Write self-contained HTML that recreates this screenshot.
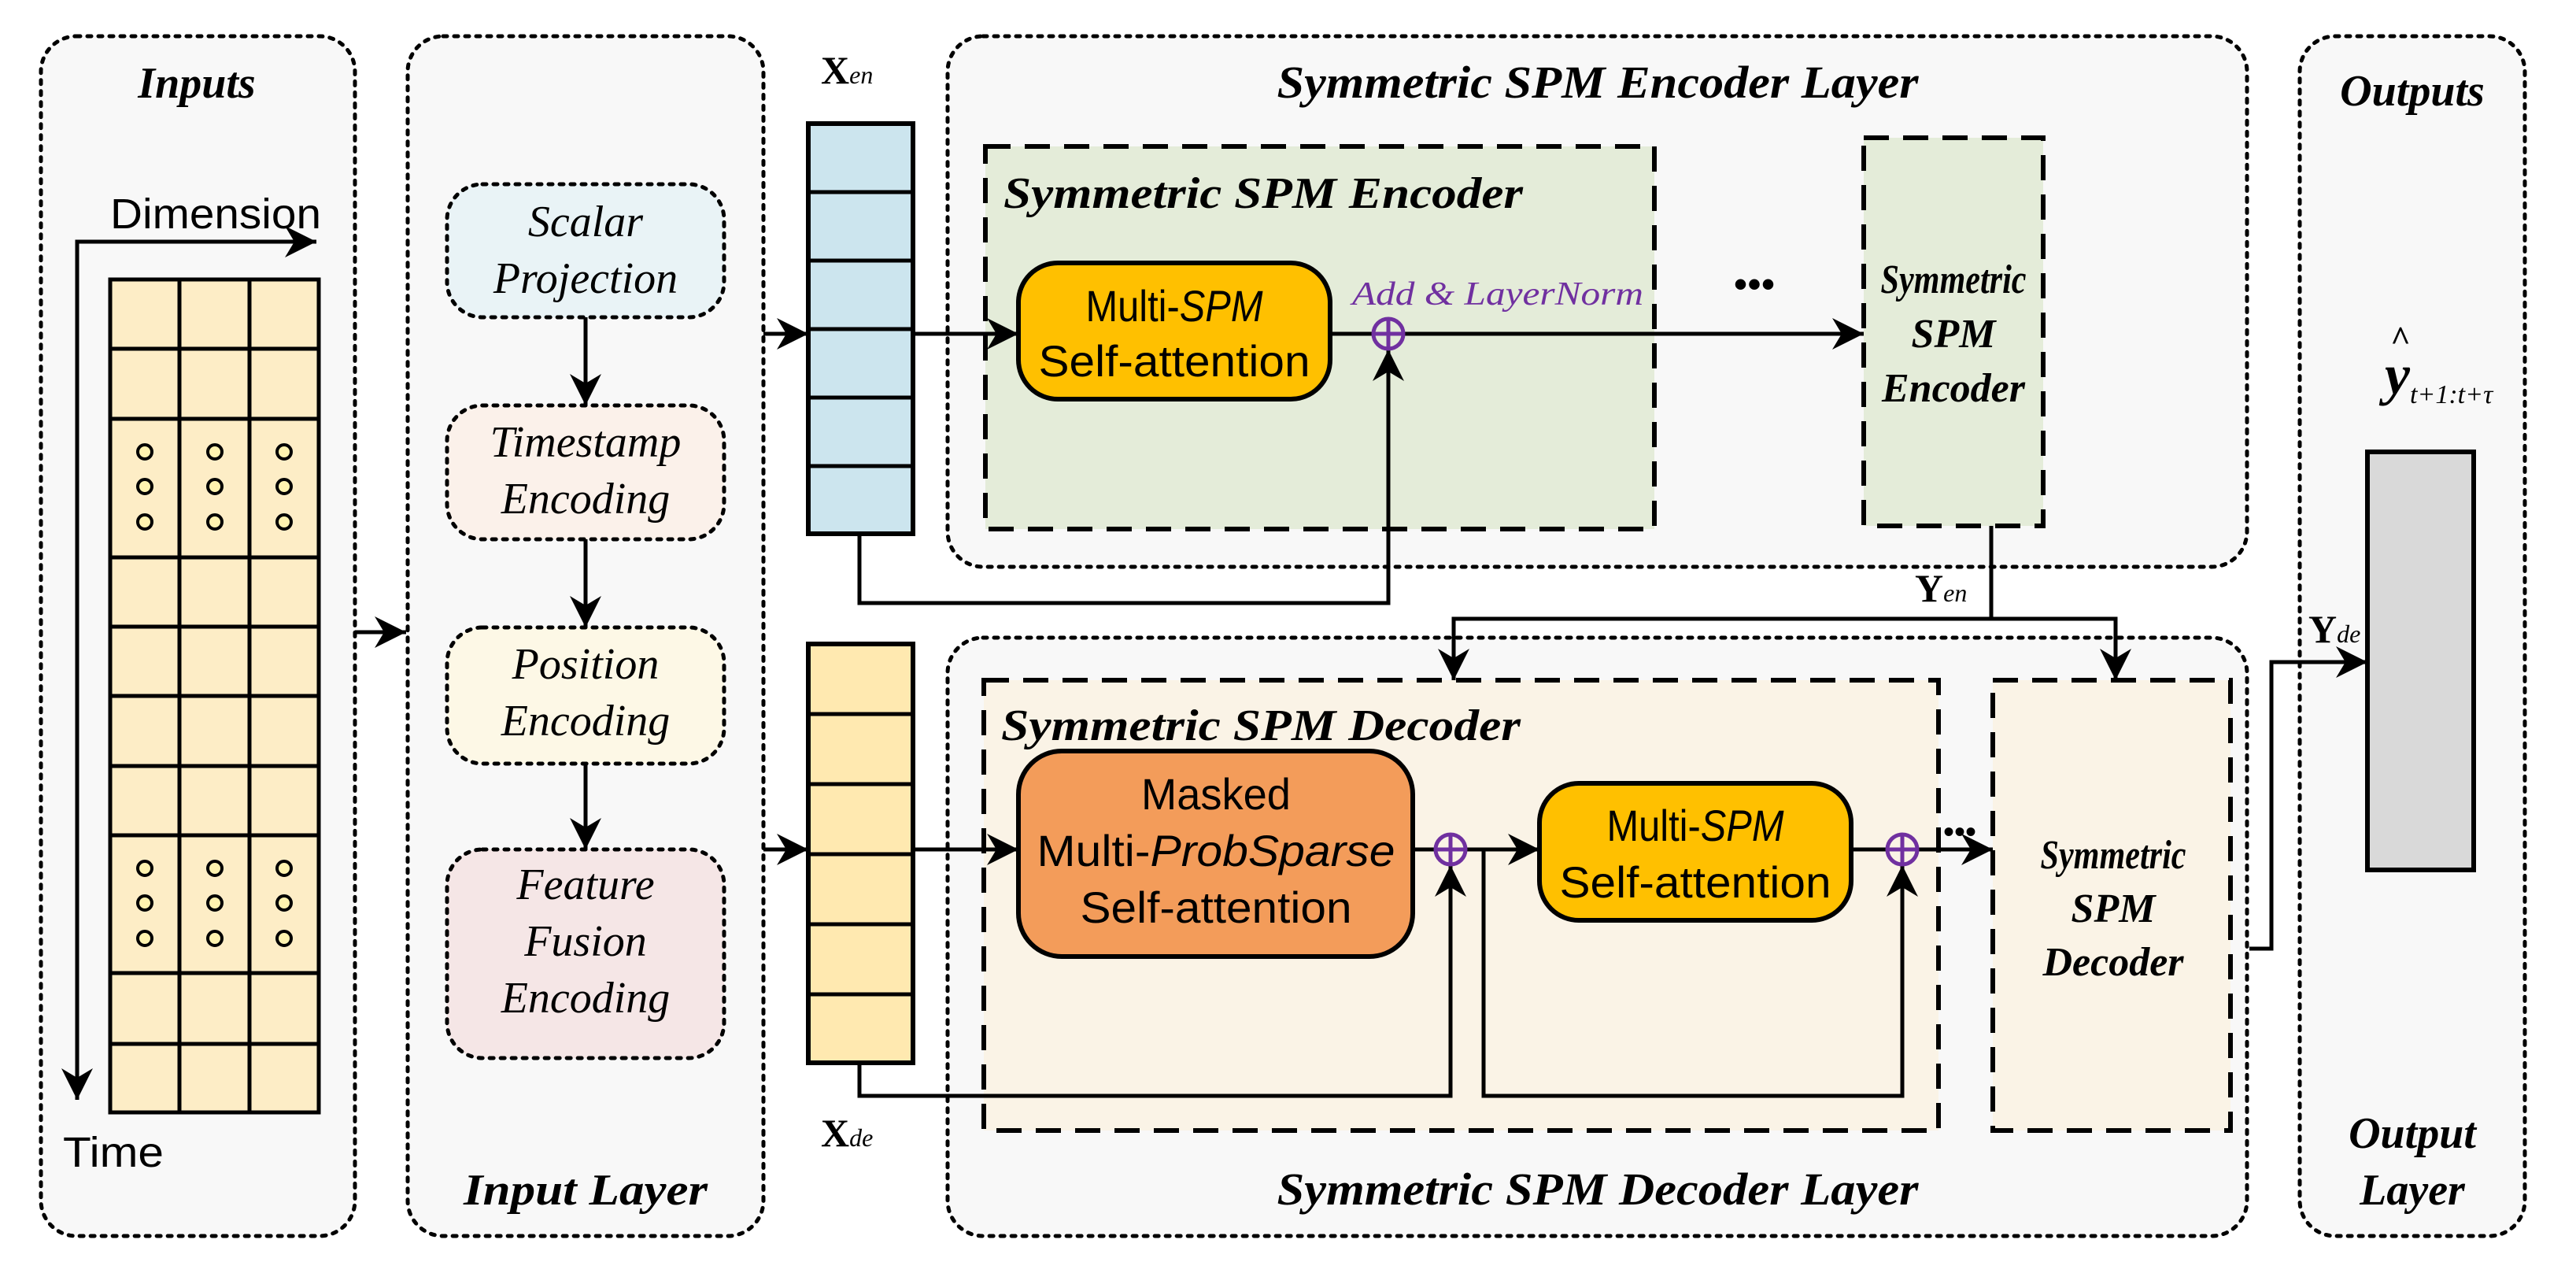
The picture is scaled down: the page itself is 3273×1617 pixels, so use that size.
<!DOCTYPE html>
<html><head><meta charset="utf-8"><style>
html,body{margin:0;padding:0;background:#fff;}
svg{display:block;}
.t{font-family:"Liberation Serif",serif;font-weight:bold;font-style:italic;}
.i{font-family:"Liberation Serif",serif;font-style:italic;}
.s{font-family:"Liberation Sans",sans-serif;}
</style></head><body>
<svg width="3273" height="1617" viewBox="0 0 3273 1617" xmlns="http://www.w3.org/2000/svg">
<defs>
<marker id="a" viewBox="0 0 10 10" refX="10" refY="5" markerWidth="40" markerHeight="40" markerUnits="userSpaceOnUse" orient="auto">
<path d="M0,0 L10,5 L0,10 L3,5 z" fill="#000"/></marker>
</defs>
<style>
.od{fill:#f8f8f8;stroke:#000;stroke-width:5;stroke-dasharray:5 9;stroke-linecap:round}
.id{stroke:#000;stroke-width:5;stroke-dasharray:5 9;stroke-linecap:round}
.dd{stroke:#000;stroke-width:6;stroke-dasharray:32 18}
.ln{stroke:#000;stroke-width:5;fill:none}
</style>
<rect width="3273" height="1617" fill="#fff"/>
<!-- outer boxes -->
<rect class="od" x="52" y="46" width="399" height="1524" rx="45"/>
<rect class="od" x="518" y="46" width="452" height="1524" rx="45"/>
<rect class="od" x="1204" y="46" width="1651" height="674" rx="45"/>
<rect class="od" x="1204" y="810" width="1651" height="760" rx="45"/>
<rect class="od" x="2922" y="46" width="286" height="1524" rx="45"/>

<text class="t" x="250" y="124" font-size="56" text-anchor="middle">Inputs</text>
<text class="t" x="744" y="1530" font-size="56" text-anchor="middle" textLength="310" lengthAdjust="spacingAndGlyphs">Input Layer</text>
<text class="t" x="2030" y="124" font-size="58" text-anchor="middle" textLength="815" lengthAdjust="spacingAndGlyphs">Symmetric SPM Encoder Layer</text>
<text class="t" x="2030" y="1530" font-size="58" text-anchor="middle" textLength="815" lengthAdjust="spacingAndGlyphs">Symmetric SPM Decoder Layer</text>
<text class="t" x="3065" y="134" font-size="56" text-anchor="middle">Outputs</text>
<text class="t" x="3065" y="1458" font-size="56" text-anchor="middle">Output</text>
<text class="t" x="3065" y="1530" font-size="56" text-anchor="middle">Layer</text>

<!-- inputs grid -->
<text class="s" x="140" y="290" font-size="54" textLength="268" lengthAdjust="spacingAndGlyphs">Dimension</text>
<text class="s" x="80" y="1482" font-size="54" textLength="128" lengthAdjust="spacingAndGlyphs">Time</text>
<polyline class="ln" points="98,1395 98,307 402,307" marker-end="url(#a)"/>
<line class="ln" x1="98" y1="320" x2="98" y2="1397" marker-end="url(#a)"/>
<g>
<rect x="140" y="355" width="265" height="1058" fill="#fdedc6" stroke="#000" stroke-width="5"/>
<g stroke="#000" stroke-width="5">
<line x1="228" y1="355" x2="228" y2="1413"/><line x1="317" y1="355" x2="317" y2="1413"/>
<line x1="140" y1="443" x2="405" y2="443"/><line x1="140" y1="532" x2="405" y2="532"/>
<line x1="140" y1="708" x2="405" y2="708"/><line x1="140" y1="796" x2="405" y2="796"/>
<line x1="140" y1="884" x2="405" y2="884"/><line x1="140" y1="973" x2="405" y2="973"/>
<line x1="140" y1="1061" x2="405" y2="1061"/><line x1="140" y1="1236" x2="405" y2="1236"/>
<line x1="140" y1="1326" x2="405" y2="1326"/>
</g>
<g fill="#fff3b0" stroke="#000" stroke-width="4">
<circle cx="184" cy="574" r="9"/><circle cx="184" cy="618" r="9"/><circle cx="184" cy="663" r="9"/>
<circle cx="273" cy="574" r="9"/><circle cx="273" cy="618" r="9"/><circle cx="273" cy="663" r="9"/>
<circle cx="361" cy="574" r="9"/><circle cx="361" cy="618" r="9"/><circle cx="361" cy="663" r="9"/>
<circle cx="184" cy="1103" r="9"/><circle cx="184" cy="1147" r="9"/><circle cx="184" cy="1192" r="9"/>
<circle cx="273" cy="1103" r="9"/><circle cx="273" cy="1147" r="9"/><circle cx="273" cy="1192" r="9"/>
<circle cx="361" cy="1103" r="9"/><circle cx="361" cy="1147" r="9"/><circle cx="361" cy="1192" r="9"/>
</g>
</g>
<line class="ln" x1="451" y1="803" x2="516" y2="803" marker-end="url(#a)"/>

<!-- input layer boxes -->
<rect class="id" x="568" y="234" width="352" height="169" rx="45" fill="#e9f3f6"/>
<rect class="id" x="568" y="515" width="352" height="170" rx="45" fill="#fbf1ea"/>
<rect class="id" x="568" y="797" width="352" height="173" rx="45" fill="#fdf8e6"/>
<rect class="id" x="568" y="1079" width="352" height="265" rx="45" fill="#f5e6e6"/>
<g class="i" font-size="56" text-anchor="middle">
<text x="744" y="300">Scalar</text><text x="744" y="372">Projection</text>
<text x="744" y="580">Timestamp</text><text x="744" y="652">Encoding</text>
<text x="744" y="862">Position</text><text x="744" y="934">Encoding</text>
<text x="744" y="1142">Feature</text><text x="744" y="1214">Fusion</text><text x="744" y="1286">Encoding</text>
</g>
<line class="ln" x1="744" y1="403" x2="744" y2="515" marker-end="url(#a)"/>
<line class="ln" x1="744" y1="685" x2="744" y2="797" marker-end="url(#a)"/>
<line class="ln" x1="744" y1="970" x2="744" y2="1079" marker-end="url(#a)"/>

<!-- Xen / Xde -->
<text x="1043" y="106" font-family="Liberation Serif,serif" font-weight="bold" font-size="50">X<tspan font-weight="normal" font-style="italic" font-size="32">en</tspan></text>
<text x="1043" y="1456" font-family="Liberation Serif,serif" font-weight="bold" font-size="50">X<tspan font-weight="normal" font-style="italic" font-size="32">de</tspan></text>
<rect x="1027" y="157" width="133" height="521" fill="#cce5ee" stroke="#000" stroke-width="6"/>
<g stroke="#000" stroke-width="5">
<line x1="1027" y1="244" x2="1160" y2="244"/><line x1="1027" y1="331" x2="1160" y2="331"/>
<line x1="1027" y1="418" x2="1160" y2="418"/><line x1="1027" y1="505" x2="1160" y2="505"/>
<line x1="1027" y1="592" x2="1160" y2="592"/>
</g>
<rect x="1027" y="818" width="133" height="532" fill="#ffe9b0" stroke="#000" stroke-width="6"/>
<g stroke="#000" stroke-width="5">
<line x1="1027" y1="907" x2="1160" y2="907"/><line x1="1027" y1="996" x2="1160" y2="996"/>
<line x1="1027" y1="1085" x2="1160" y2="1085"/><line x1="1027" y1="1174" x2="1160" y2="1174"/>
<line x1="1027" y1="1263" x2="1160" y2="1263"/>
</g>
<line class="ln" x1="970" y1="424" x2="1027" y2="424" marker-end="url(#a)"/>
<line class="ln" x1="970" y1="1079" x2="1027" y2="1079" marker-end="url(#a)"/>

<!-- encoder inner -->
<rect class="dd" x="1252" y="186" width="850" height="486" fill="#e4ecd9"/>
<text class="t" x="1275" y="264" font-size="56" textLength="660" lengthAdjust="spacingAndGlyphs">Symmetric SPM Encoder</text>
<rect x="1294" y="334" width="396" height="173" rx="50" fill="#ffc000" stroke="#000" stroke-width="6"/>
<text class="s" x="1492" y="408" font-size="56" text-anchor="middle" textLength="225" lengthAdjust="spacingAndGlyphs">Multi-<tspan font-style="italic">SPM</tspan></text>
<text class="s" x="1492" y="478" font-size="56" text-anchor="middle" textLength="345" lengthAdjust="spacingAndGlyphs">Self-attention</text>
<text class="i" x="1718" y="387" font-size="42" fill="#7030a0" textLength="370" lengthAdjust="spacingAndGlyphs">Add &amp; LayerNorm</text>
<line class="ln" x1="1160" y1="424" x2="1294" y2="424" marker-end="url(#a)"/>
<line class="ln" x1="1690" y1="424" x2="2368" y2="424" marker-end="url(#a)"/>
<polyline class="ln" points="1092,678 1092,766 1764,766 1764,444" marker-end="url(#a)"/>
<circle cx="1764" cy="424" r="19" fill="none" stroke="#7030a0" stroke-width="5"/>
<line x1="1745" y1="424" x2="1783" y2="424" stroke="#7030a0" stroke-width="5"/>
<line x1="1764" y1="405" x2="1764" y2="443" stroke="#7030a0" stroke-width="5"/>
<text x="2229" y="378" font-size="50" font-weight="bold" font-family="Liberation Serif,serif" text-anchor="middle">•••</text>
<rect class="dd" x="2368" y="175" width="228" height="493" fill="#e4ecd9"/>
<g class="t" font-size="52" text-anchor="middle">
<text x="2482" y="372" textLength="185" lengthAdjust="spacingAndGlyphs">Symmetric</text><text x="2482" y="441">SPM</text><text x="2482" y="510">Encoder</text>
</g>

<!-- Yen -->
<line class="ln" x1="2530" y1="668" x2="2530" y2="786"/>
<text x="2433" y="764" font-family="Liberation Serif,serif" font-weight="bold" font-size="50">Y<tspan font-weight="normal" font-style="italic" font-size="32">en</tspan></text>
<polyline class="ln" points="1847,830 1847,786 2688,786 2688,830" />
<line class="ln" x1="1847" y1="800" x2="1847" y2="864" marker-end="url(#a)"/>
<line class="ln" x1="2688" y1="800" x2="2688" y2="864" marker-end="url(#a)"/>

<!-- decoder inner -->
<rect class="dd" x="1250" y="864" width="1213" height="572" fill="#faf3e6"/>
<text class="t" x="1272" y="940" font-size="56" textLength="660" lengthAdjust="spacingAndGlyphs">Symmetric SPM Decoder</text>
<rect x="1294" y="954" width="501" height="261" rx="55" fill="#f39c5a" stroke="#000" stroke-width="6"/>
<g class="s" font-size="56" text-anchor="middle">
<text x="1545" y="1028" textLength="190" lengthAdjust="spacingAndGlyphs">Masked</text>
<text x="1545" y="1100" textLength="455" lengthAdjust="spacingAndGlyphs">Multi-<tspan font-style="italic">ProbSparse</tspan></text>
<text x="1545" y="1172" textLength="345" lengthAdjust="spacingAndGlyphs">Self-attention</text>
</g>
<rect x="1956" y="995" width="396" height="174" rx="50" fill="#ffc000" stroke="#000" stroke-width="6"/>
<g class="s" font-size="56" text-anchor="middle">
<text x="2154" y="1068" textLength="225" lengthAdjust="spacingAndGlyphs">Multi-<tspan font-style="italic">SPM</tspan></text>
<text x="2154" y="1140" textLength="345" lengthAdjust="spacingAndGlyphs">Self-attention</text>
</g>
<line class="ln" x1="1160" y1="1079" x2="1294" y2="1079" marker-end="url(#a)"/>
<line class="ln" x1="1795" y1="1079" x2="1956" y2="1079" marker-end="url(#a)"/>
<line class="ln" x1="2352" y1="1079" x2="2532" y2="1079" marker-end="url(#a)"/>
<polyline class="ln" points="1092,1350 1092,1392 1843,1392 1843,1099" marker-end="url(#a)"/>
<polyline class="ln" points="1885,1079 1885,1392 2417,1392 2417,1099" marker-end="url(#a)"/>
<g stroke="#7030a0" stroke-width="5" fill="none">
<circle cx="1843" cy="1079" r="19"/><line x1="1824" y1="1079" x2="1862" y2="1079"/><line x1="1843" y1="1060" x2="1843" y2="1098"/>
<circle cx="2417" cy="1079" r="19"/><line x1="2398" y1="1079" x2="2436" y2="1079"/><line x1="2417" y1="1060" x2="2417" y2="1098"/>
</g>
<text x="2490" y="1070" font-size="40" font-weight="bold" font-family="Liberation Serif,serif" text-anchor="middle">•••</text>
<rect class="dd" x="2532" y="864" width="302" height="572" fill="#faf3e6"/>
<g class="t" font-size="52" text-anchor="middle">
<text x="2685" y="1103" textLength="185" lengthAdjust="spacingAndGlyphs">Symmetric</text><text x="2685" y="1171">SPM</text><text x="2685" y="1239">Decoder</text>
</g>

<!-- output -->
<polyline class="ln" points="2858,1205 2886,1205 2886,841 3008,841" marker-end="url(#a)"/>
<text x="2933" y="816" font-family="Liberation Serif,serif" font-weight="bold" font-size="50">Y<tspan font-weight="normal" font-style="italic" font-size="32">de</tspan></text>
<rect x="3008" y="574" width="135" height="531" fill="#d9d9d9" stroke="#000" stroke-width="6"/>
<text x="3050" y="445" font-family="Liberation Serif,serif" font-size="44" font-weight="bold" text-anchor="middle">^</text>
<text x="3030" y="500" font-family="Liberation Serif,serif" font-style="italic" font-weight="bold" font-size="72">y<tspan font-size="34" font-weight="normal" dy="12">t+1:t+τ</tspan></text>
</svg>
</body></html>
